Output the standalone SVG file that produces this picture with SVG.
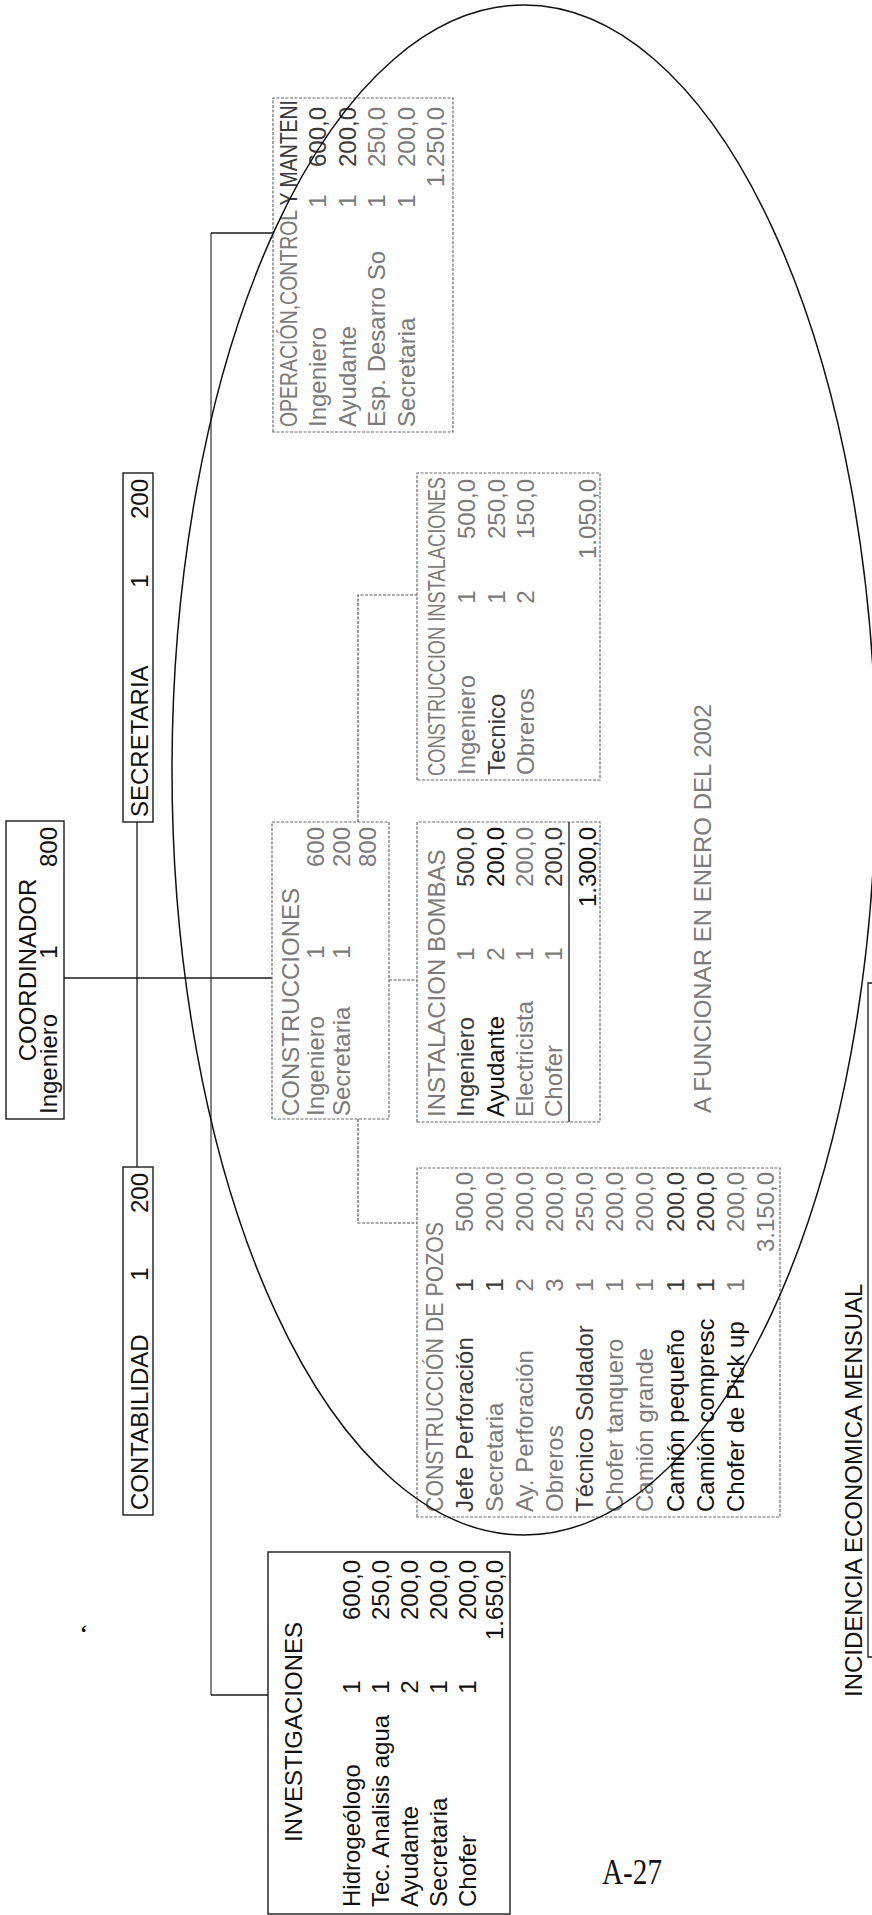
<svg xmlns="http://www.w3.org/2000/svg" width="872" height="1915" viewBox="0 0 872 1915">
<style>
text{font-family:"Liberation Sans",Arial,sans-serif;font-size:24px;fill:#111}
.f{fill:#7a7a7a}
.m{fill:#3a3a3a}
.e{text-anchor:end}
.c{text-anchor:middle}
.box{fill:none;stroke:#1a1a1a;stroke-width:1.4}
.dbox{fill:none;stroke:#6a6a6a;stroke-width:1.2;stroke-dasharray:3 1.5}
.ln{fill:none;stroke:#1a1a1a;stroke-width:1.3}
.bus{fill:none;stroke:#333;stroke-width:1.2}
.dln{fill:none;stroke:#555;stroke-width:1.2;stroke-dasharray:3 1.5}
.oval{fill:none;stroke:#111;stroke-width:1.5}
</style>
<rect width="872" height="1915" fill="#fff"/>
<g transform="translate(0,1915) rotate(-90)">
<g id="connectors">
<line class="ln" x1="937" y1="64" x2="937" y2="272"/>
<line class="ln" x1="748" y1="137" x2="1093" y2="137"/>
<line class="bus" x1="220" y1="211" x2="1682" y2="211"/>
<line class="ln" x1="1682" y1="211" x2="1682" y2="273"/>
<line class="ln" x1="220" y1="211" x2="220" y2="268"/>
<line class="dln" x1="935" y1="389" x2="935" y2="417"/>
<polyline class="dln" points="1093,358 1320,358 1320,417"/>
<polyline class="dln" points="796,358 692,358 692,417"/>
</g>
<g id="coordinador">
<rect class="box" x="796" y="6" width="298" height="58"/>
<text x="945" y="36" class="c">COORDINADOR</text>
<text x="801" y="57">Ingeniero</text>
<text x="963" y="57" class="c">1</text>
<text x="1088" y="57" class="e">800</text>
</g>
<g id="secretaria">
<rect class="box" x="1093" y="123" width="349" height="30"/>
<text x="1098" y="148">SECRETARIA</text>
<text x="1334" y="148" class="c">1</text>
<text x="1436" y="148" class="e">200</text>
</g>
<g id="contabilidad">
<rect class="box" x="400" y="123" width="348" height="30"/>
<text x="405" y="148">CONTABILIDAD</text>
<text x="641" y="148" class="c">1</text>
<text x="742" y="148" class="e">200</text>
</g>
<g id="construcciones">
<rect class="dbox" x="796" y="272" width="297" height="117"/>
<text class="f" x="799" y="299">CONSTRUCCIONES</text>
<text class="f" x="799" y="324">Ingeniero</text>
<text class="f c" x="963" y="324">1</text>
<text class="f e" x="1088" y="324">600</text>
<text class="f" x="799" y="350">Secretaria</text>
<text class="f c" x="963" y="350">1</text>
<text class="f e" x="1088" y="350">200</text>
<text class="f e" x="1088" y="376">800</text>
</g>
<g id="instalacion-bombas">
<rect class="dbox" x="793" y="417" width="300" height="183"/>
<line class="ln" x1="793" y1="569" x2="1093" y2="569"/>
<text class="f" x="798" y="445">INSTALACION BOMBAS</text>
<text class="m" x="798" y="474">Ingeniero</text>
<text class="f c" x="961" y="474">1</text>
<text class="m e" x="1088" y="474">500,0</text>
<text x="798" y="504">Ayudante</text>
<text class="f c" x="961" y="504">2</text>
<text class="e" x="1088" y="504">200,0</text>
<text class="f" x="798" y="533">Electricista</text>
<text class="f c" x="961" y="533">1</text>
<text class="f e" x="1088" y="533">200,0</text>
<text class="f" x="798" y="562">Chofer</text>
<text class="f c" x="961" y="562">1</text>
<text class="m e" x="1088" y="562">200,0</text>
<text class="e" x="1088" y="596">1.300,0</text>
</g>
<g id="construccion-instalaciones">
<rect class="dbox" x="1135" y="417" width="307" height="183"/>
<text class="f" x="1139" y="445" textLength="299" lengthAdjust="spacingAndGlyphs">CONSTRUCCION INSTALACIONES</text>
<text class="f" x="1140" y="475">Ingeniero</text>
<text class="f c" x="1318" y="475">1</text>
<text class="f e" x="1436" y="475">500,0</text>
<text class="m" x="1140" y="505">Tecnico</text>
<text class="f c" x="1318" y="505">1</text>
<text class="f e" x="1436" y="505">250,0</text>
<text class="f" x="1140" y="534">Obreros</text>
<text class="f c" x="1318" y="534">2</text>
<text class="f e" x="1436" y="534">150,0</text>
<text class="f e" x="1436" y="596">1.050,0</text>
</g>
<g id="construccion-pozos">
<rect class="dbox" x="398" y="417" width="349" height="363"/>
<text class="f" x="403" y="443" textLength="290" lengthAdjust="spacingAndGlyphs">CONSTRUCCIÓN DE POZOS</text>
<text class="m" x="403" y="473">Jefe Perforación</text>
<text class="m c" x="630" y="473">1</text>
<text class="f e" x="743" y="473">500,0</text>
<text class="f" x="403" y="503">Secretaria</text>
<text class="m c" x="630" y="503">1</text>
<text class="f e" x="743" y="503">200,0</text>
<text class="f" x="403" y="533">Ay. Perforación</text>
<text class="f c" x="630" y="533">2</text>
<text class="f e" x="743" y="533">200,0</text>
<text class="f" x="403" y="563">Obreros</text>
<text class="f c" x="630" y="563">3</text>
<text class="f e" x="743" y="563">200,0</text>
<text class="m" x="403" y="593">Técnico Soldador</text>
<text class="f c" x="630" y="593">1</text>
<text class="f e" x="743" y="593">250,0</text>
<text class="f" x="403" y="623">Chofer tanquero</text>
<text class="f c" x="630" y="623">1</text>
<text class="f e" x="743" y="623">200,0</text>
<text class="f" x="403" y="653">Camión grande</text>
<text class="f c" x="630" y="653">1</text>
<text class="f e" x="743" y="653">200,0</text>
<text x="403" y="684">Camión pequeño</text>
<text class="m c" x="630" y="684">1</text>
<text class="m e" x="743" y="684">200,0</text>
<text x="403" y="714">Camión compresc</text>
<text class="m c" x="630" y="714">1</text>
<text class="m e" x="743" y="714">200,0</text>
<text x="403" y="744">Chofer de Pick up</text>
<text class="f c" x="630" y="744">1</text>
<text class="f e" x="743" y="744">200,0</text>
<text class="f e" x="743" y="774">3.150,0</text>
</g>
<g id="operacion">
<rect class="dbox" x="1483" y="273" width="334" height="180"/>
<text class="f" x="1488" y="297" textLength="327" lengthAdjust="spacingAndGlyphs">OPERACIÓN,CONTROL <tspan class="m">Y MANTENI</tspan></text>
<text class="f" x="1488" y="326">Ingeniero</text>
<text class="f c" x="1714" y="326">1</text>
<text class="m e" x="1808" y="326">600,0</text>
<text class="f" x="1488" y="356">Ayudante</text>
<text class="f c" x="1714" y="356">1</text>
<text class="m e" x="1808" y="356">200,0</text>
<text class="f" x="1488" y="385">Esp. Desarro So</text>
<text class="f c" x="1714" y="385">1</text>
<text class="f e" x="1808" y="385">250,0</text>
<text class="f" x="1488" y="415">Secretaria</text>
<text class="f c" x="1714" y="415">1</text>
<text class="f e" x="1808" y="415">200,0</text>
<text class="f e" x="1808" y="444">1.250,0</text>
</g>
<g id="investigaciones">
<rect class="box" x="1" y="268" width="362" height="242"/>
<text x="183" y="302" class="c">INVESTIGACIONES</text>
<text x="8" y="360">Hidrogeólogo</text>
<text x="228" y="360" class="c">1</text>
<text x="355" y="360" class="e">600,0</text>
<text x="8" y="389">Tec. Analisis agua</text>
<text x="228" y="389" class="c">1</text>
<text x="355" y="389" class="e">250,0</text>
<text x="8" y="418">Ayudante</text>
<text x="228" y="418" class="c">2</text>
<text x="355" y="418" class="e">200,0</text>
<text x="8" y="447">Secretaria</text>
<text x="228" y="447" class="c">1</text>
<text x="355" y="447" class="e">200,0</text>
<text x="8" y="476">Chofer</text>
<text x="228" y="476" class="c">1</text>
<text x="355" y="476" class="e">200,0</text>
<text x="355" y="503" class="e">1.650,0</text>
</g>
<g id="notes">
<text class="f" x="802" y="711">A FUNCIONAR EN ENERO DEL 2002</text>
<text x="218" y="862">INCIDENCIA ECONOMICA MENSUAL</text>
<polyline class="ln" points="258,874 258,868 932,868 932,874"/>
</g>
</g>
<g id="annotation">
<ellipse class="oval" cx="524" cy="770" rx="352" ry="765"/>
</g>
<text x="632" y="1884" text-anchor="middle" style="font-family:'Liberation Serif','Times New Roman',serif;font-size:36px" textLength="60" lengthAdjust="spacingAndGlyphs">A-27</text>
<text x="80" y="1640" style="font-family:'Liberation Serif',serif;font-size:22px;font-weight:bold">‘</text>
</svg>
